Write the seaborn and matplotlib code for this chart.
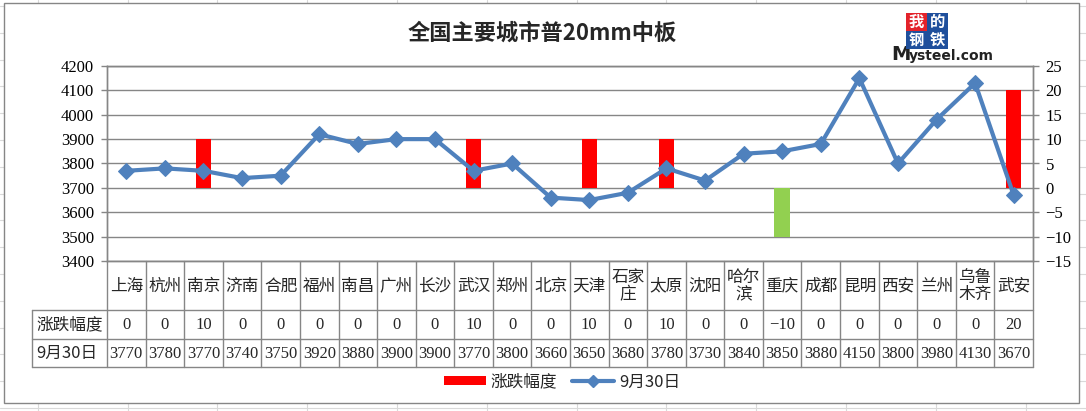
import numpy as np
import pandas as pd
import seaborn as sns
import matplotlib.pyplot as plt
import matplotlib.transforms as mtransforms
from matplotlib.patches import Rectangle
from matplotlib.lines import Line2D

cities = ['上海', '杭州', '南京', '济南', '合肥', '福州', '南昌', '广州', '长沙', '武汉',
          '郑州', '北京', '天津', '石家庄', '太原', '沈阳', '哈尔滨', '重庆', '成都', '昆明',
          '西安', '兰州', '乌鲁木齐', '武安']
changes = [0, 0, 10, 0, 0, 0, 0, 0, 0, 10, 0, 0, 10, 0, 10, 0, 0, -10, 0, 0, 0, 0, 0, 20]
prices = [3770, 3780, 3770, 3740, 3750, 3920, 3880, 3900, 3900, 3770, 3800, 3660, 3650,
          3680, 3780, 3730, 3840, 3850, 3880, 4150, 3800, 3980, 4130, 3670]
left_ticks = [3400, 3500, 3600, 3700, 3800, 3900, 4000, 4100, 4200]
right_ticks = [-15, -10, -5, 0, 5, 10, 15, 20, 25]

title = '全国主要城市普20mm中板'
bar_name = '涨跌幅度'
line_name = '9月30日'

df = pd.DataFrame({'pos': np.arange(len(cities)), 'city': cities,
                   'change': changes, 'price': prices})
df['sign'] = np.where(df['change'] < 0, 'down', 'up')

sns.set_theme(style='white')
plt.rcParams['font.family'] = ['Liberation Serif', 'Noto Sans CJK SC', 'DejaVu Sans']
plt.rcParams['axes.unicode_minus'] = True

W, H = 1086, 411
GRAY = '#868686'
BLUE = '#4F81BD'
RED = '#FF0000'
GREEN = '#92D050'


def fx(px):
    return px / W


def fy(py):
    return 1 - py / H


fig = plt.figure(figsize=(W / 100, H / 100), dpi=100)

# spreadsheet cells behind the chart object
for x in np.arange(37.7, W, 89.8):
    fig.add_artist(Line2D([fx(x), fx(x)], [0, 1], color='#d9d9d9', lw=0.8, zorder=-3))
for y in np.arange(6, H, 26.8):
    fig.add_artist(Line2D([0, 1], [fy(y), fy(y)], color='#d9d9d9', lw=0.8, zorder=-3))
fig.add_artist(Rectangle((fx(4), fy(403)), fx(1079) - fx(4), fy(3) - fy(403),
                         facecolor='white', edgecolor=GRAY, lw=1, zorder=-2))
fig.patch.set_facecolor('white')

ax = fig.add_axes([fx(107), fy(261), fx(1033) - fx(107), fy(66) - fy(261)])
ax2 = ax.twinx()

# bars on the right axis (green when negative), line on the left axis
sns.barplot(data=df, x='pos', y='change', hue='sign', ax=ax2,
            palette={'up': RED, 'down': GREEN}, saturation=1, width=0.4,
            native_scale=True, dodge=False, legend=False, linewidth=0, zorder=2)
for p in ax2.patches:
    p.set_edgecolor('none')
sns.lineplot(data=df, x='pos', y='price', ax=ax, color=BLUE, lw=3, marker='D',
             markersize=8, markeredgecolor=BLUE, zorder=3)

ax.set_zorder(ax2.get_zorder() + 1)
ax.patch.set_visible(False)
ax2.patch.set_visible(True)
ax2.patch.set_facecolor('white')

ax.set_xlim(-0.5, len(cities) - 0.5)
ax.set_ylim(3400, 4200)
ax2.set_ylim(-15, 25)
ax.set_yticks(left_ticks)
ax2.set_yticks(right_ticks)
ax.set_xticks([])
ax.set_xlabel('')
ax.set_ylabel('')
ax2.set_xlabel('')
ax2.set_ylabel('')
ax.grid(False)
ax2.set_axisbelow(True)
ax2.grid(axis='y', color=GRAY, lw=1)
ax2.grid(axis='x', visible=False)

for a in (ax, ax2):
    for s in a.spines.values():
        s.set_color(GRAY)
        s.set_linewidth(1)
ax.tick_params(axis='y', which='major', left=True, length=4.3, width=1, color=GRAY,
               pad=5, labelsize=12, labelcolor='black')
ax2.tick_params(axis='y', which='major', right=True, length=4.3, width=1, color=GRAY,
                pad=4.7, labelsize=12, labelcolor='black')
ax.tick_params(axis='x', bottom=False, labelbottom=False)
ax2.tick_params(axis='x', bottom=False, labelbottom=False)

# data table under the plot
blend = mtransforms.blended_transform_factory(ax.transData, fig.transFigure)
for i in range(len(cities) + 1):
    fig.add_artist(Line2D([i - 0.5, i - 0.5], [fy(261), fy(367)], transform=blend,
                          color=GRAY, lw=1, zorder=5))
for y in (310, 339, 367):
    fig.add_artist(Line2D([fx(32), fx(1033)], [fy(y), fy(y)], color=GRAY, lw=1, zorder=5))
fig.add_artist(Line2D([fx(32), fx(32)], [fy(310), fy(367)], color=GRAY, lw=1, zorder=5))

cjk = ['Noto Sans CJK SC', 'DejaVu Sans']
for i, c in enumerate(cities):
    lab = c if len(c) < 3 else c[:2] + '\n' + c[2:]
    fig.text(i, fy(286), lab, transform=blend, ha='center', va='center', fontsize=12,
             family=cjk, linespacing=1.0)
    ch = str(changes[i]).replace('-', '\u2212')
    fig.text(i, fy(325), ch, transform=blend, ha='center', va='center', fontsize=12)
    fig.text(i, fy(353.5), str(prices[i]), transform=blend, ha='center', va='center',
             fontsize=12)
fig.text(fx(36), fy(325), bar_name, ha='left', va='center', fontsize=12, family=cjk)
fig.text(fx(36), fy(353.5), line_name, ha='left', va='center', fontsize=12, family=cjk)

# title
fig.text(fx(542), fy(33), title, ha='center', va='center', fontsize=16,
         fontweight='bold', family=cjk)

# logo
boxes = [('我', 906, 13, '#E3232B'), ('的', 927, 13, '#1F4F9C'),
         ('钢', 906, 31, '#1F4F9C'), ('铁', 927, 31, '#1F4F9C')]
for ch, x0, y0, col in boxes:
    fig.add_artist(Rectangle((fx(x0), fy(y0 + 18)), fx(21), 18 / H, facecolor=col,
                             edgecolor='none', zorder=4))
    fig.text(fx(x0 + 10.5), fy(y0 + 9), ch, ha='center', va='center', fontsize=11,
             color='white', fontweight='bold', family=cjk, zorder=5)
fig.text(fx(891), fy(55), 'M', ha='left', va='center', fontsize=14, fontweight='bold',
         family='DejaVu Sans', color='#222222')
fig.text(fx(909), fy(56), 'ysteel.com', ha='left', va='center', fontsize=10,
         fontweight='bold', family='DejaVu Sans', color='#222222')

# legend
handles = [Rectangle((0, 0), 1, 1, facecolor=RED, edgecolor='none'),
           Line2D([], [], color=BLUE, lw=3, marker='D', markersize=6)]
fig.legend(handles, [bar_name, line_name], loc='center', ncol=2, frameon=False,
           bbox_to_anchor=(fx(562), fy(382)), prop={'family': cjk, 'size': 12},
           handlelength=2.5, handleheight=0.5, columnspacing=0.9, handletextpad=0.3)

fig.savefig('out.png', dpi=100, facecolor='white')
